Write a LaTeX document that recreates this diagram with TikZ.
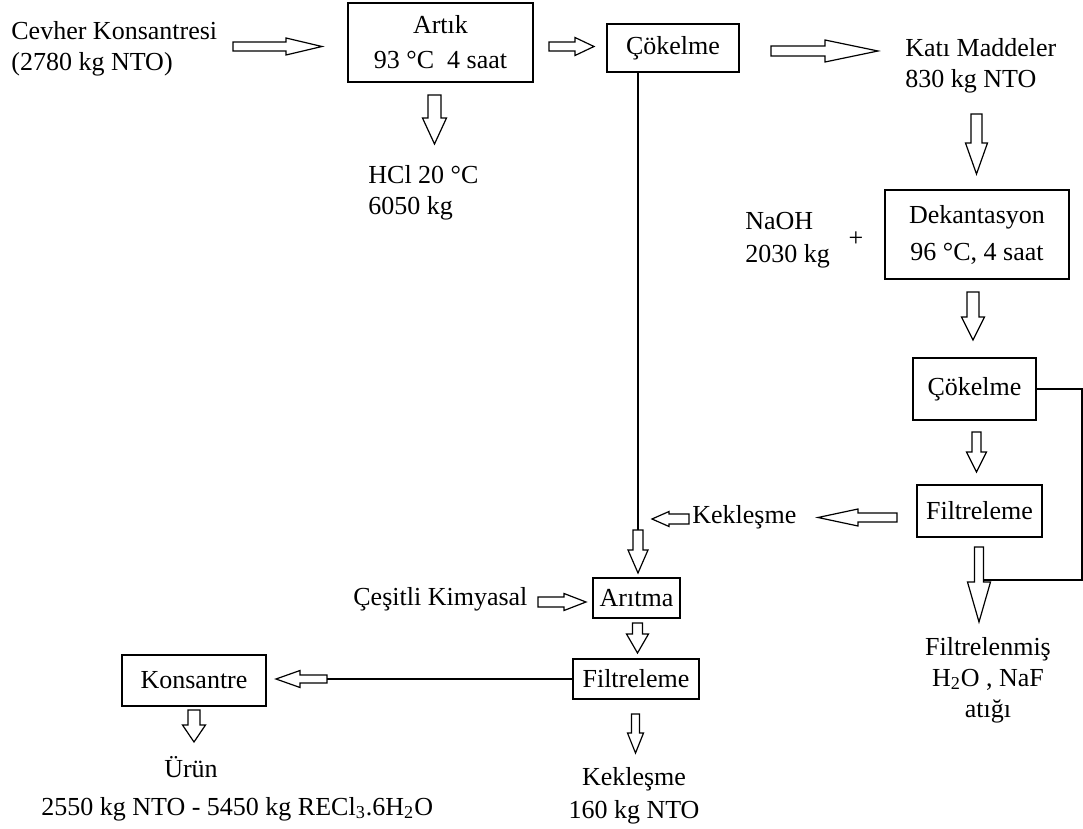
\documentclass[tikz,border=0pt]{standalone}
\usepackage{fontspec}
\setmainfont{Liberation Serif}
\usetikzlibrary{calc}
\tikzset{
  box/.style={draw, line width=0.6pt, inner sep=0pt, align=center},
  lbl/.style={inner sep=0pt, align=left, anchor=base west},
  clbl/.style={inner sep=0pt, align=center, anchor=base},
  conn/.style={line width=0.6pt},
  barrow/.style n args={3}{line width=0.6pt, line join=miter, to path={
     ($(\tikztostart)!#1!90:(\tikztotarget)$)
     -- ($($(\tikztotarget)!#3!(\tikztostart)$)!#1!-90:(\tikztostart)$)
     -- ($($(\tikztotarget)!#3!(\tikztostart)$)!#2!-90:(\tikztostart)$)
     -- (\tikztotarget)
     -- ($($(\tikztotarget)!#3!(\tikztostart)$)!#2!90:(\tikztostart)$)
     -- ($($(\tikztotarget)!#3!(\tikztostart)$)!#1!90:(\tikztostart)$)
     -- ($(\tikztostart)!#1!-90:(\tikztotarget)$)
     -- cycle}},
}
\begin{document}
\begin{tikzpicture}[x=0.5pt,y=-0.5pt,font=\fontsize{13pt}{15.5pt}\selectfont]
\useasboundingbox (0,0) rectangle (1083,829);
% nodes (base anchor of a multi-line node = baseline of its last line)
\node[lbl] (cevher) at (11,71) {Cevher Konsantresi\\(2780 kg NTO)};
\node[box, minimum width=92.5pt, minimum height=39.5pt] (artik) at (440.5,42.5) {Artık\\[2pt]93 °C~ 4 saat};
\node[box, minimum width=66pt, minimum height=24pt] (cok1) at (673,48) {Çökelme};
\node[lbl] (kati) at (905,88) {Katı Maddeler\\830 kg NTO};
\node[lbl] (hcl) at (368,214) {HCl 20 °C\\6050 kg};
\node[lbl] (naoh) at (745,263) {NaOH\\[1pt]2030 kg};
\node[inner sep=0pt] (plus) at (856,239) {+};
\node[box, minimum width=92pt, minimum height=44.5pt] (dek) at (977,234.5) {Dekantasyon\\[3pt]96 °C, 4 saat};
\node[box, minimum width=61.5pt, minimum height=31pt] (cok2) at (974.5,389) {Çökelme};
\node[box, minimum width=62.5pt, minimum height=26pt] (filt1) at (979.5,511) {Filtreleme};
\node[lbl] (kek1) at (692,523) {Kekleşme};
\node[box, minimum width=43.5pt, minimum height=20pt] (arit) at (636.5,598) {Arıtma};
\node[lbl] (cesitli) at (353,605) {Çeşitli Kimyasal};
\node[box, minimum width=63pt, minimum height=20pt] (filt2) at (636,679) {Filtreleme};
\node[box, minimum width=72pt, minimum height=25.5pt] (kons) at (194,680.5) {Konsantre};
\node[clbl] (urun) at (191,777) {Ürün};
\node[lbl] (urunb) at (41,815) {2550 kg NTO - 5450 kg RECl\textsubscript{3}.6H\textsubscript{2}O};
\node[clbl] (kek2) at (634,818) {Kekleşme\\[1pt]160 kg NTO};
\node[clbl] (filtr) at (988,717) {Filtrelenmiş\\H\textsubscript{2}O , NaF\\atığı};
% arrow end points
\coordinate (a1s) at (233,46.5);  \coordinate (a1e) at (322,46.5);
\coordinate (a2s) at (549,46.5);  \coordinate (a2e) at (594,46.5);
\coordinate (a3s) at (771,51);    \coordinate (a3e) at (878,51);
\coordinate (a4s) at (434.5,95);  \coordinate (a4e) at (434.5,144);
\coordinate (a5s) at (976.5,114); \coordinate (a5e) at (976.5,174);
\coordinate (a6s) at (973,292);   \coordinate (a6e) at (973,340);
\coordinate (a7s) at (976.5,432); \coordinate (a7e) at (976.5,472);
\coordinate (a8s) at (979,547);   \coordinate (a8e) at (979,622);
\coordinate (a9s) at (897,517.5); \coordinate (a9e) at (818,517.5);
\coordinate (a10s) at (689,519);  \coordinate (a10e) at (652,519);
\coordinate (a11s) at (638,530);  \coordinate (a11e) at (638,573);
\coordinate (a12s) at (538,602);  \coordinate (a12e) at (586,602);
\coordinate (a13s) at (637.5,623);\coordinate (a13e) at (637.5,653);
\coordinate (a14s) at (327,679);  \coordinate (a14e) at (276,679);
\coordinate (a15s) at (194,710);  \coordinate (a15e) at (194,742);
\coordinate (a16s) at (635.5,714);\coordinate (a16e) at (635.5,753);
\coordinate (loop) at (1082,580);
\coordinate (loopend) at (983.5,580);
% block arrows
\draw[barrow={2.25pt}{4.25pt}{18pt}] (a1s) to (a1e);
\draw[barrow={2.25pt}{4.5pt}{9.5pt}] (a2s) to (a2e);
\draw[barrow={2.5pt}{5.5pt}{26.5pt}] (a3s) to (a3e);
\draw[barrow={3.25pt}{6pt}{13pt}] (a4s) to (a4e);
\draw[barrow={2.75pt}{5.5pt}{15.5pt}] (a5s) to (a5e);
\draw[barrow={3pt}{5.75pt}{11.5pt}] (a6s) to (a6e);
\draw[barrow={2.25pt}{5pt}{10pt}] (a7s) to (a7e);
\draw[barrow={2.25pt}{5.75pt}{20pt}] (a8s) to (a8e);
\draw[barrow={2.25pt}{4.25pt}{20pt}] (a9s) to (a9e);
\draw[barrow={2.5pt}{3.75pt}{8.5pt}] (a10s) to (a10e);
\draw[barrow={2.5pt}{5pt}{11.5pt}] (a11s) to (a11e);
\draw[barrow={2.5pt}{4.25pt}{11pt}] (a12s) to (a12e);
\draw[barrow={2.5pt}{5.5pt}{9.5pt}] (a13s) to (a13e);
\draw[barrow={2pt}{4.25pt}{12pt}] (a14s) to (a14e);
\draw[barrow={3pt}{5.75pt}{8.5pt}] (a15s) to (a15e);
\draw[barrow={2pt}{4pt}{10pt}] (a16s) to (a16e);
% thin connectors
\draw[conn] (cok1.south -| a11s) -- (a11s);
\draw[conn] (filt2.west) -- (a14s);
\draw[conn] (cok2.east) -| (loop) -- (loopend);
\end{tikzpicture}
\end{document}
